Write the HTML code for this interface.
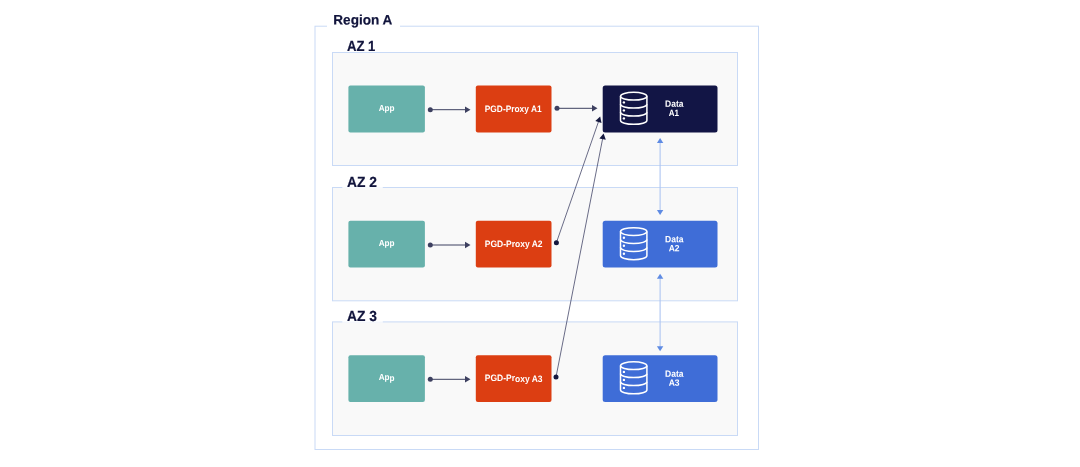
<!DOCTYPE html>
<html lang="en">
<head>
<meta charset="utf-8">
<title>Region A</title>
<style>
html,body{margin:0;padding:0;background:#fff;}
body{width:1080px;height:467px;overflow:hidden;}
svg{display:block;will-change:transform;}
text{font-family:"Liberation Sans",sans-serif;font-weight:bold;}
.lbl{font-size:13.8px;fill:#11143c;stroke:#11143c;stroke-width:0.2px;}
.az{font-size:14.6px;}
.a{font-size:8.9px !important;}
.d{font-size:9.1px !important;}
.bx{font-size:9.3px;fill:#fff;text-anchor:middle;}
</style>
</head>
<body>
<svg width="1080" height="467" viewBox="0 0 1080 467">
  <defs>
    <g id="db" fill="none" stroke="#fff" stroke-width="1.5">
      <ellipse cx="0" cy="0" rx="13.2" ry="3.9"/>
      <path d="M-13.2 0V24.2A13.2 3.9 0 0 0 13.2 24.2V0"/>
      <path d="M-13.2 8A13.2 3.9 0 0 0 13.2 8"/>
      <path d="M-13.2 16A13.2 3.9 0 0 0 13.2 16"/>
      <circle cx="-9.8" cy="6.2" r="1.2" fill="#fff" stroke="none"/>
      <circle cx="-9.8" cy="14.2" r="1.2" fill="#fff" stroke="none"/>
      <circle cx="-9.8" cy="22.2" r="1.2" fill="#fff" stroke="none"/>
    </g>
  </defs>

  <!-- Region -->
  <rect x="315" y="26.2" width="443.5" height="423.3" fill="#fff" stroke="#c9daf6" stroke-width="1"/>
  <rect x="327" y="20" width="73" height="12" fill="#fff"/>
  <text class="lbl" x="333.3" y="24.4" textLength="59" lengthAdjust="spacingAndGlyphs" transform="rotate(0.03 333.3 24.4)">Region A</text>

  <!-- AZ boxes -->
  <rect x="332.5" y="52.5" width="405" height="113" fill="#f9f9f9" stroke="#c9daf6"/>
  <rect x="332.5" y="187.5" width="405" height="113.3" fill="#f9f9f9" stroke="#c9daf6"/>
  <rect x="332.5" y="321.9" width="405" height="113.6" fill="#f9f9f9" stroke="#c9daf6"/>
  <rect x="342.3" y="186" width="40.5" height="2.2" fill="#fff" fill-opacity="0.85"/>
  <rect x="342.3" y="320.5" width="40.5" height="2.2" fill="#fff" fill-opacity="0.85"/>
  <text class="lbl az" x="347" y="51.35" textLength="28.4" lengthAdjust="spacingAndGlyphs" transform="rotate(0.03 347 51.35)">AZ 1</text>
  <text class="lbl az" x="347" y="186.9" textLength="29.9" lengthAdjust="spacingAndGlyphs" transform="rotate(0.03 347 186.9)">AZ 2</text>
  <text class="lbl az" x="347" y="321" textLength="29.9" lengthAdjust="spacingAndGlyphs" transform="rotate(0.03 347 321)">AZ 3</text>

  <!-- App boxes -->
  <rect x="348.4" y="85.55" width="76.5" height="46.9" rx="2" fill="#67b1ab"/>
  <rect x="348.4" y="220.75" width="76.5" height="46.8" rx="2" fill="#67b1ab"/>
  <rect x="348.4" y="355.15" width="76.5" height="46.8" rx="2" fill="#67b1ab"/>
  <text class="bx a" x="386.6" y="110.85" textLength="15.9" lengthAdjust="spacingAndGlyphs" transform="rotate(0.03 386.6 110.85)">App</text>
  <text class="bx a" x="386.6" y="246.2" textLength="15.9" lengthAdjust="spacingAndGlyphs" transform="rotate(0.03 386.6 246.2)">App</text>
  <text class="bx a" x="386.6" y="380.5" textLength="15.9" lengthAdjust="spacingAndGlyphs" transform="rotate(0.03 386.6 380.5)">App</text>

  <!-- Proxy boxes -->
  <rect x="475.8" y="85.55" width="75.7" height="46.9" rx="2" fill="#dc3e12"/>
  <rect x="475.8" y="220.75" width="75.7" height="46.8" rx="2" fill="#dc3e12"/>
  <rect x="475.8" y="355.15" width="75.7" height="46.8" rx="2" fill="#dc3e12"/>
  <text class="bx" x="513.2" y="111.7" textLength="56.8" lengthAdjust="spacingAndGlyphs" transform="rotate(0.03 513.2 111.7)">PGD-Proxy A1</text>
  <text class="bx" x="513.7" y="247" textLength="57.7" lengthAdjust="spacingAndGlyphs" transform="rotate(0.03 513.7 247)">PGD-Proxy A2</text>
  <text class="bx" x="513.7" y="381.5" textLength="57.7" lengthAdjust="spacingAndGlyphs" transform="rotate(0.03 513.7 381.5)">PGD-Proxy A3</text>

  <!-- Data boxes -->
  <rect x="602.7" y="85.55" width="114.8" height="46.9" rx="2.5" fill="#121545"/>
  <rect x="602.7" y="220.75" width="114.8" height="46.8" rx="2.5" fill="#3f6dd7"/>
  <rect x="602.7" y="355.15" width="114.8" height="46.8" rx="2.5" fill="#3f6dd7"/>
  <use href="#db" x="633.7" y="96.2"/>
  <use href="#db" x="633.7" y="231.6"/>
  <use href="#db" x="633.7" y="365.7"/>
  <text class="bx d" x="674.3" y="106.7" textLength="18.4" lengthAdjust="spacingAndGlyphs" transform="rotate(0.03 674.3 106.7)">Data</text>
  <text class="bx d" x="673.8" y="115.9" textLength="10.3" lengthAdjust="spacingAndGlyphs" transform="rotate(0.03 673.8 115.9)">A1</text>
  <text class="bx d" x="674.3" y="242.2" textLength="18.5" lengthAdjust="spacingAndGlyphs" transform="rotate(0.03 674.3 242.2)">Data</text>
  <text class="bx d" x="674.1" y="251.2" textLength="10.9" lengthAdjust="spacingAndGlyphs" transform="rotate(0.03 674.1 251.2)">A2</text>
  <text class="bx d" x="674.3" y="376.8" textLength="18.5" lengthAdjust="spacingAndGlyphs" transform="rotate(0.03 674.3 376.8)">Data</text>
  <text class="bx d" x="674.1" y="385.7" textLength="10.9" lengthAdjust="spacingAndGlyphs" transform="rotate(0.03 674.1 385.7)">A3</text>

  <!-- horizontal arrows -->
  <g stroke="#3d4060" stroke-width="1" fill="none">
    <line x1="430.3" y1="109.7" x2="466" y2="109.7"/>
    <line x1="430.3" y1="245" x2="466" y2="245"/>
    <line x1="430.3" y1="379.3" x2="466" y2="379.3"/>
    <line x1="557" y1="108.3" x2="593" y2="108.3"/>
  </g>
  <g fill="#3d4060">
    <circle cx="430.3" cy="109.7" r="2.5"/>
    <circle cx="430.3" cy="245" r="2.5"/>
    <circle cx="430.3" cy="379.3" r="2.5"/>
    <circle cx="557" cy="108.3" r="2.5"/>
    <path d="M465 106.4L470.5 109.7L465 113Z"/>
    <path d="M465 241.7L470.5 245L465 248.3Z"/>
    <path d="M465 376L470.5 379.3L465 382.6Z"/>
    <path d="M592 105L597.5 108.3L592 111.6Z"/>
  </g>

  <!-- diagonal arrows -->
  <g stroke="#2b2e55" stroke-width="0.7" fill="none">
    <line x1="556.4" y1="242.7" x2="599.3" y2="119.3"/>
    <line x1="556" y1="377" x2="603.1" y2="136.3"/>
  </g>
  <g fill="#15183f">
    <circle cx="556.4" cy="242.7" r="2.5"/>
    <circle cx="556" cy="377" r="2.5"/>
    <path d="M600.2 116.6L601.5 123.1L595.3 120.9Z"/>
    <path d="M603.6 133.4L605.8 139.7L599.4 138.4Z"/>
  </g>

  <!-- blue vertical arrows -->
  <g stroke="#aec5f2" stroke-width="1.1" fill="none">
    <line x1="660.1" y1="142" x2="660.1" y2="211"/>
    <line x1="660.1" y1="278" x2="660.1" y2="347"/>
  </g>
  <g fill="#5f8be3">
    <path d="M660.1 137.9L663.3 143L656.9 143Z"/>
    <path d="M660.1 215L663.3 210.1L656.9 210.1Z"/>
    <path d="M660.1 273.8L663.3 278.8L656.9 278.8Z"/>
    <path d="M660.1 351.2L663.3 346.2L656.9 346.2Z"/>
  </g>
</svg>
</body>
</html>
